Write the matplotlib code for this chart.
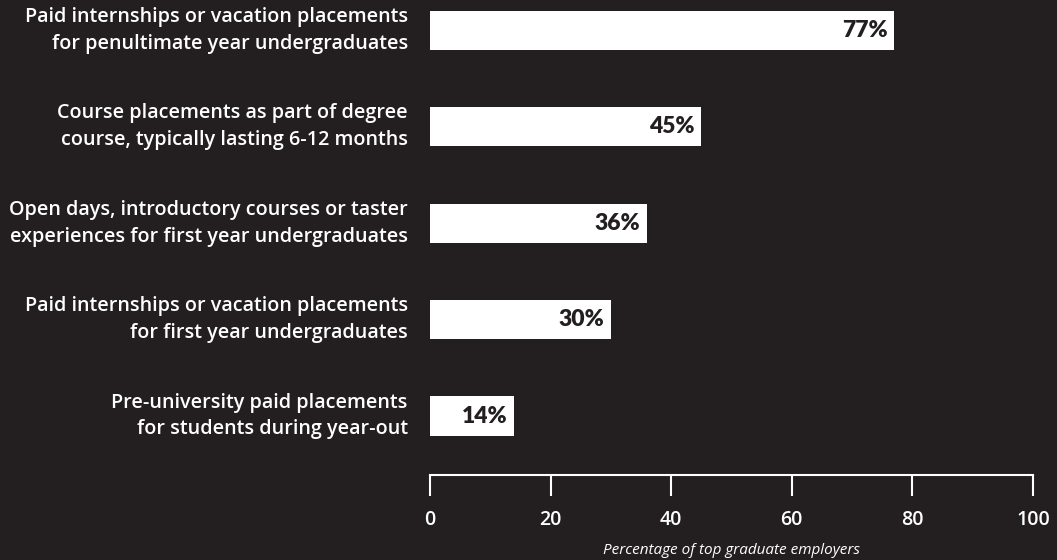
import matplotlib
matplotlib.use("Agg")
import matplotlib.pyplot as plt

BG = "#231f20"
BAR = "#ffffff"
INK = "#231f20"

categories = [
    "Paid internships or vacation placements\nfor penultimate year undergraduates",
    "Course placements as part of degree\ncourse, typically lasting 6-12 months",
    "Open days, introductory courses or taster\nexperiences for first year undergraduates",
    "Paid internships or vacation placements\nfor first year undergraduates",
    "Pre-university paid placements\nfor students during year-out",
]
values = [77, 45, 36, 30, 14]
ticks = [0, 20, 40, 60, 80, 100]
xlabel = "Percentage of top graduate employers"

W, H, DPI = 1057, 560, 100
fig = plt.figure(figsize=(W / DPI, H / DPI), dpi=DPI, facecolor=BG)

# axes box in pixels: x 430..1033, y 0..475 (from top)
left, right, top, bottom = 430, 1033, 0, 475
ax = fig.add_axes([left / W, 1 - bottom / H, (right - left) / W, (bottom - top) / H])
ax.set_facecolor(BG)

pos = list(range(len(values)))
ax.barh(pos, values, height=0.405, color=BAR, edgecolor="none")
ax.set_xlim(0, 100)
ax.set_ylim(4.612, -0.316)

for p, v in zip(pos, values):
    ax.annotate(f"{v}%", xy=(v, p), xytext=(-5, 0), textcoords="offset points",
                ha="right", va="center", fontsize=16.5, fontweight="heavy",
                family="Lato", color=INK)

for p, c in zip(pos, categories):
    ax.annotate(c, xy=(0, p), xytext=(-16, 0), textcoords="offset points",
                ha="right", va="center", multialignment="right",
                fontsize=14.2, fontweight="semibold", family="Open Sans",
                color="white", linespacing=1.45)

for side in ("top", "right", "left"):
    ax.spines[side].set_visible(False)
ax.spines["bottom"].set_color("white")
ax.spines["bottom"].set_linewidth(1.5)
ax.spines["bottom"].set_capstyle("projecting")
ax.set_yticks([])
ax.set_xticks(ticks)
ax.set_xticklabels([str(t) for t in ticks], fontsize=14, fontweight="semibold",
                   family="Open Sans", color="white")
ax.tick_params(axis="x", direction="out", length=15, width=1.5, color="white",
               pad=10)

fig.text((left + right) / 2 / W, 1 - 551 / H, xlabel, ha="center", va="center",
         fontsize=11, style="italic", family="Open Sans", color="white")

fig.savefig("out.png", dpi=DPI, facecolor=BG)
